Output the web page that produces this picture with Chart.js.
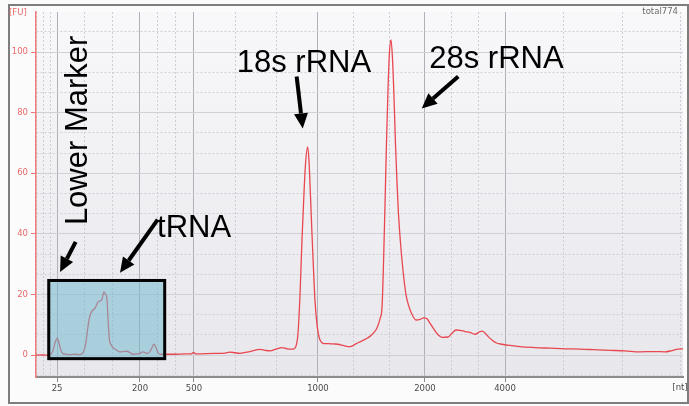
<!DOCTYPE html>
<html>
<head>
<meta charset="utf-8">
<title>total774 electropherogram</title>
<script src="https://cdn.jsdelivr.net/npm/chart.js@4.4.0/dist/chart.umd.min.js"></script>
<style>
  html, body { margin: 0; padding: 0; background: #fff; }
  #wrap { width: 689px; height: 406px; }
</style>
</head>
<body>
<div id="wrap"><canvas id="trace" width="689" height="406"></canvas></div>
<script>
// migration time (s) and fluorescence (FU)
const times = [
    18.00, 18.31, 18.69, 19.08, 19.31, 19.46, 19.64, 19.77, 19.92, 20.08,
    20.31, 20.62, 21.00, 21.31, 21.54, 21.69, 21.85, 22.00, 22.15, 22.31,
    22.54, 22.77, 23.00, 23.08, 23.23, 23.35, 23.46, 23.54, 23.65, 23.77,
    23.92, 24.15, 24.46, 24.77, 25.00, 25.23, 25.46, 25.77, 26.00, 26.23,
    26.46, 26.62, 26.85, 27.08, 27.23, 27.38, 27.62, 27.92, 28.69, 29.46,
    29.92, 30.12, 30.31, 31.00, 31.77, 32.54, 32.92, 33.31, 33.69, 34.46,
    35.23, 35.62, 36.00, 36.46, 36.90, 37.31, 37.77, 38.00, 38.15, 38.31,
    38.46, 38.62, 38.73, 38.90, 39.00, 39.12, 39.23, 39.35, 39.46, 39.62,
    39.77, 39.92, 40.15, 40.46, 40.85, 41.23, 41.62, 42.00, 42.31, 42.62,
    42.92, 43.31, 43.69, 44.00, 44.23, 44.46, 44.62, 44.73, 44.85, 44.96,
    45.08, 45.19, 45.31, 45.42, 45.54, 45.65, 45.77, 45.88, 46.04, 46.23,
    46.46, 46.69, 46.92, 47.23, 47.54, 47.81, 48.08, 48.31, 48.62, 48.92,
    49.23, 49.69, 50.00, 50.31, 50.62, 51.00, 51.38, 51.77, 52.08, 52.31,
    52.54, 52.77, 53.08, 53.38, 53.85, 54.46, 55.23, 56.38, 57.54, 58.69,
    59.85, 61.00, 62.15, 63.31, 64.46, 65.62, 66.38, 66.92, 67.38, 67.77
];
const fu = [
    0.0, 0.1, 0.0, 0.2, 1.5, 4.0, 5.6, 4.0, 1.5, 0.5,
    0.3, 0.2, 0.3, 0.2, 0.5, 1.5, 4.5, 9.5, 13.0, 14.5,
    15.5, 17.5, 18.0, 18.5, 20.9, 20.0, 18.5, 12.0, 5.0, 3.5,
    2.5, 1.8, 1.1, 1.2, 1.3, 0.8, 0.3, 0.4, 0.6, 1.1,
    0.7, 0.6, 1.8, 3.6, 2.5, 0.8, 0.3, 0.3, 0.3, 0.4,
    0.4, 0.9, 0.4, 0.5, 0.6, 0.7, 1.0, 0.8, 0.6, 1.2,
    1.9, 1.6, 1.4, 2.0, 2.5, 2.1, 2.0, 3.0, 7.0, 20.0,
    38.0, 54.0, 63.0, 68.7, 64.0, 52.0, 40.0, 28.0, 18.0, 10.0,
    6.0, 4.5, 3.8, 3.8, 3.7, 3.6, 3.2, 2.8, 3.0, 3.8,
    4.4, 5.2, 6.2, 7.5, 9.0, 12.0, 16.0, 30.0, 50.0, 70.0,
    88.0, 100.0, 104.0, 98.0, 85.0, 70.0, 57.0, 47.0, 37.0, 28.0,
    20.0, 16.0, 13.5, 11.6, 11.8, 12.3, 12.0, 10.5, 8.5, 6.8,
    5.9, 6.0, 7.2, 8.3, 8.2, 7.8, 7.5, 6.9, 7.6, 7.9,
    7.3, 6.2, 5.0, 4.1, 3.6, 3.2, 2.8, 2.5, 2.3, 2.1,
    2.0, 1.8, 1.6, 1.4, 1.1, 1.2, 1.1, 1.5, 2.0, 2.1
];

// ladder sizes (nt) and the time each one runs at
const ladderNt = [25, 200, 500, 1000, 2000, 4000];
const ladderTimes = [19.62, 26.00, 30.15, 39.69, 47.92, 54.08];

const fuTicks = [0, 20, 40, 60, 80, 100];
const sampleName = 'total774';

const smallFont = { family: 'DejaVu Sans', size: 8.5 };
const bigFont = '31px "Liberation Sans", Arial, sans-serif';

function xGridTicks(min, max) {
    const list = [];
    // a few dotted lines before the first ladder peak
    for (let t = ladderTimes[0] - 0.54; t > min; t -= 0.54) list.unshift({ value: t });
    ladderTimes.forEach((t, i) => {
        list.push({ value: t, isMajor: true });
        const next = ladderTimes[i + 1];
        if (next !== undefined) {
            list.push({ value: t + (next - t) / 3 }, { value: t + 2 * (next - t) / 3 });
        }
    });
    const last = ladderTimes[ladderTimes.length - 1];
    for (let t = last + 4.5; t < max; t += 4.5) list.push({ value: t });
    return list;
}

function yGridTicks(min, max) {
    const step = (fuTicks[1] - fuTicks[0]) / 3;
    const list = [];
    for (let k = Math.ceil(min / step); k * step < max; k++) {
        list.push({ value: k * step, isMajor: k % 3 === 0 });
    }
    return list;
}

const backdrop = {
    id: 'backdrop',
    beforeDraw(chart) {
        const { ctx, chartArea: a } = chart;
        ctx.save();
        ctx.fillStyle = '#fbfbfb';
        ctx.fillRect(0, 0, chart.width, chart.height);
        const g = ctx.createLinearGradient(0, a.top, 0, a.bottom);
        g.addColorStop(0, '#f8f8fa');
        g.addColorStop(1, '#e7e7ec');
        ctx.fillStyle = g;
        ctx.fillRect(a.left, a.top, a.right - a.left, a.bottom - a.top);
        ctx.strokeStyle = '#7d7d7d';
        ctx.lineWidth = 2;
        ctx.strokeRect(9, 5, chart.width - 10, chart.height - 8);
        ctx.restore();
    }
};

function arrow(ctx, x1, y1, x2, y2) {
    const ang = Math.atan2(y2 - y1, x2 - x1);
    const len = 15, half = 7;
    const bx = x2 - len * Math.cos(ang), by = y2 - len * Math.sin(ang);
    ctx.beginPath();
    ctx.moveTo(x1, y1);
    ctx.lineTo(bx, by);
    ctx.lineWidth = 4;
    ctx.stroke();
    ctx.beginPath();
    ctx.moveTo(x2, y2);
    ctx.lineTo(bx + half * Math.sin(ang), by - half * Math.cos(ang));
    ctx.lineTo(bx - half * Math.sin(ang), by + half * Math.cos(ang));
    ctx.closePath();
    ctx.fill();
}

const notes = {
    id: 'notes',
    afterDraw(chart) {
        const { ctx } = chart;
        const xs = chart.scales.x, ys = chart.scales.y;
        const px = (t, v) => [xs.getPixelForValue(t), ys.getPixelForValue(v)];

        ctx.save();
        // box round the small RNA region
        const [bl, bt] = px(18.98, 24.64);
        const [br, bb] = px(27.90, -1.15);
        ctx.fillStyle = 'rgba(116, 185, 207, 0.55)';
        ctx.fillRect(bl, bt, br - bl, bb - bt);
        ctx.strokeStyle = '#000';
        ctx.lineWidth = 3;
        ctx.strokeRect(bl, bt, br - bl, bb - bt);

        ctx.fillStyle = '#000';
        ctx.strokeStyle = '#000';
        arrow(ctx, ...px(21.05, 37.4), ...px(19.85, 27.4));
        arrow(ctx, ...px(27.36, 44.7), ...px(24.46, 27.2));
        arrow(ctx, ...px(38.05, 91.9), ...px(38.52, 74.8));
        arrow(ctx, ...px(50.48, 91.9), ...px(47.67, 81.4));

        ctx.font = bigFont;
        ctx.textAlign = 'left';
        ctx.textBaseline = 'alphabetic';
        ctx.fillText('18s rRNA', ...px(33.44, 93.5));
        ctx.fillText('28s rRNA', ...px(48.25, 94.6));
        ctx.fillText('tRNA', ...px(27.31, 39.1));
        const [lx, ly] = px(21.92, 42.9);
        ctx.translate(lx, ly);
        ctx.rotate(-Math.PI / 2);
        ctx.fillText('Lower Marker', 0, 0);
        ctx.restore();

        // small captions of the instrument plot
        ctx.save();
        ctx.font = `${smallFont.size}px "${smallFont.family}"`;
        ctx.textBaseline = 'middle';
        ctx.fillStyle = '#e86a6a';
        ctx.textAlign = 'left';
        ctx.fillText('[FU]', 9, 13);
        ctx.fillStyle = '#6a6a6a';
        ctx.textAlign = 'right';
        ctx.fillText(sampleName, 678, 12);
        ctx.fillStyle = '#4a4a4a';
        ctx.textAlign = 'center';
        ctx.fillText('[nt]', 680, 388);
        ctx.restore();
    }
};

const ctx = document.getElementById('trace').getContext('2d');
const traceChart = new Chart(ctx, {
    type: 'line',
    data: {
        datasets: [{
            data: times.map((t, i) => ({ x: t, y: fu[i] })),
            borderColor: '#e8474f',
            borderWidth: 1.3,
            pointRadius: 0,
            cubicInterpolationMode: 'monotone',
            fill: false
        }]
    },
    options: {
        responsive: false,
        animation: false,
        devicePixelRatio: 1,
        layout: { padding: { top: 12, right: 6, left: 0, bottom: 0 } },
        plugins: {
            legend: { display: false },
            tooltip: { enabled: false }
        },
        scales: {
            x: {
                type: 'linear',
                min: 18,
                max: 67.77,
                afterBuildTicks: scale => { scale.ticks = xGridTicks(scale.min, scale.max); },
                afterFit: scale => { scale.height = 29; },
                ticks: {
                    autoSkip: false,
                    maxRotation: 0,
                    padding: 2,
                    color: '#4a4a4a',
                    font: smallFont,
                    callback: (v, i, ticks) => {
                        const k = ladderTimes.indexOf(ticks[i].value);
                        return k >= 0 ? String(ladderNt[k]) : '';
                    }
                },
                grid: {
                    color: c => (c.tick && c.tick.isMajor ? '#b0b0b8' : '#cdcdd4'),
                    lineWidth: 1,
                    tickColor: c => (c.tick && c.tick.isMajor ? '#8a8a8a' : 'rgba(0,0,0,0)'),
                    tickLength: 5
                },
                border: {
                    color: '#8c8c8c',
                    width: 2,
                    dash: c => (c.tick && !c.tick.isMajor ? [2, 2] : [])
                }
            },
            y: {
                min: -7.2,
                max: 113.2,
                afterBuildTicks: scale => { scale.ticks = yGridTicks(scale.min, scale.max); },
                afterFit: scale => { scale.width = 36; },
                ticks: {
                    padding: 3,
                    color: '#e86a6a',
                    font: smallFont,
                    callback: (v, i, ticks) => (ticks[i].isMajor ? String(Math.round(v)) : '')
                },
                grid: {
                    color: c => (c.tick && c.tick.isMajor ? '#d0d0d7' : '#cfcfd6'),
                    lineWidth: 1,
                    tickColor: c => (c.tick && c.tick.isMajor ? '#ee7373' : 'rgba(0,0,0,0)'),
                    tickLength: 5
                },
                border: {
                    color: '#f07b7b',
                    width: 1.5,
                    dash: c => (c.tick && !c.tick.isMajor ? [2, 2] : [])
                }
            }
        }
    },
    plugins: [backdrop, notes]
});
</script>
</body>
</html>
